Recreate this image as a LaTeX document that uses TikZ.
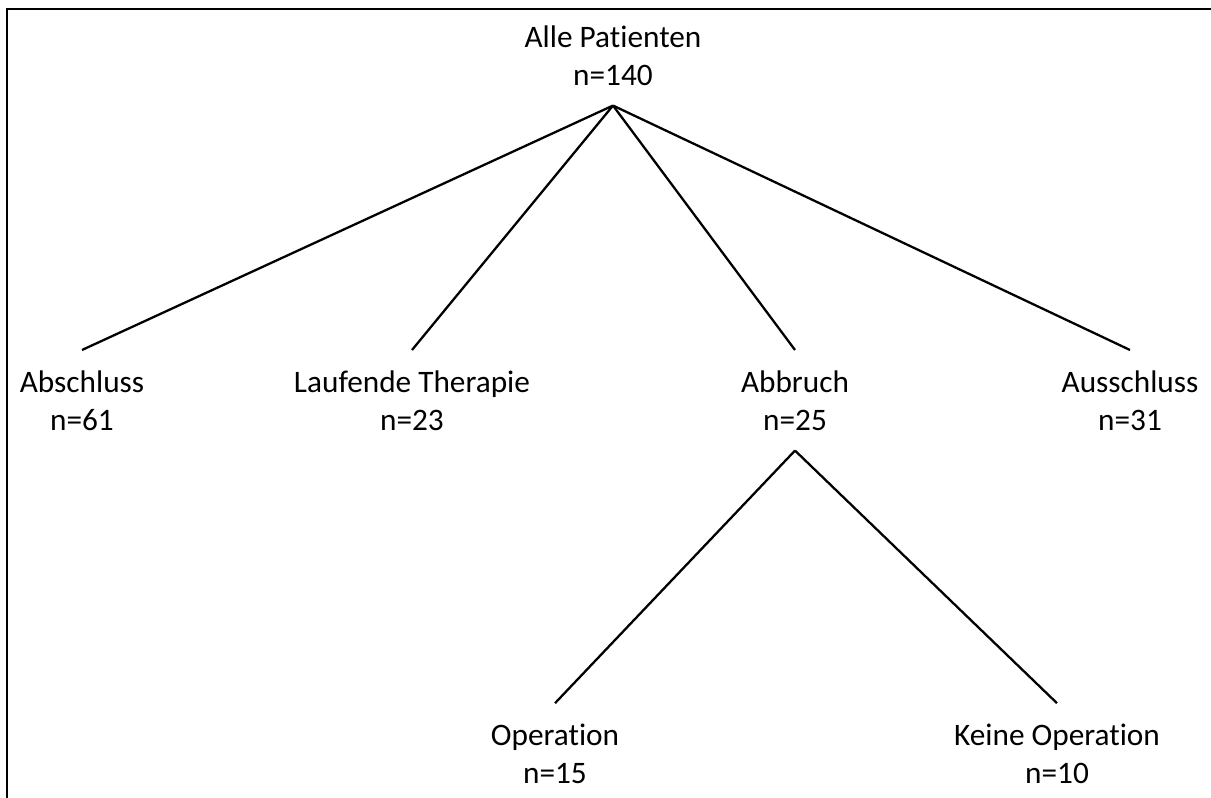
\documentclass[tikz,border=0pt]{standalone}
\usepackage{fontspec}
\setmainfont[Ligatures=NoCommon]{Carlito}

\begin{document}
\begin{tikzpicture}[
  x=0.02cm, y=-0.02cm,
  every node/.style={font=\fontsize{17.8}{21.6}\selectfont},
  grpbox/.style={align=center, inner xsep=2pt, inner ysep=0.4cm, anchor=base},
  branch/.style={line width=1.3pt},
]
\useasboundingbox (0,0) rectangle (1211,798);

%% frame (runs off at the right and at the bottom)
\draw[line width=0.05cm] (7,798) |- (1211,9);

%% top level (positions are baselines of the last line)
\node[grpbox] (alle) at (613,85) {Alle Patienten\\n=140};

%% second level
\node[grpbox] (abschluss) at (82,430)   {Abschluss\\n=61};
\node[grpbox] (laufend)   at (412,430)  {Laufende Therapie\\n=23};
\node[grpbox] (abbruch)   at (795,430)  {Abbruch\\n=25};
\node[grpbox] (ausschluss) at (1130,430) {Ausschluss\\n=31};

%% third level, below Abbruch
\node[grpbox] (op)   at (555,783)  {Operation\\n=15};
\node[grpbox] (keinop) at (1057,783) {Keine Operation\\n=10};

%% branches
\foreach \child in {abschluss, laufend, abbruch, ausschluss}
  \draw[branch] (alle.south) -- (\child.north);
\foreach \child in {op, keinop}
  \draw[branch] (abbruch.south) -- (\child.north);

\end{tikzpicture}
\end{document}
